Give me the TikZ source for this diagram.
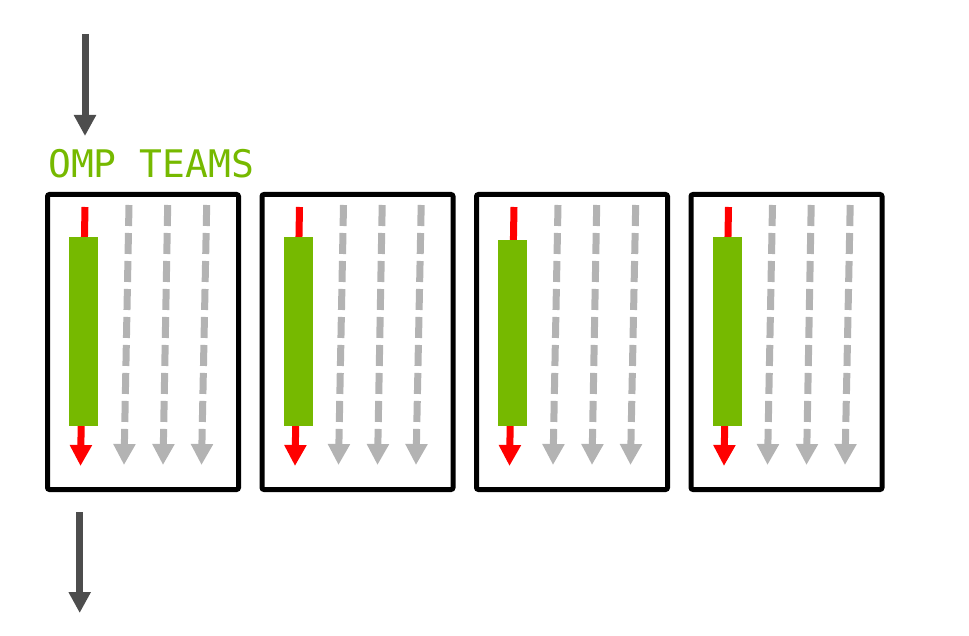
\documentclass[tikz,border=0pt]{standalone}
\usepackage{fontspec}
\newfontfamily\monofont{DejaVu Sans Mono}
\usetikzlibrary{arrows.meta,calc}
\definecolor{nvgreen}{HTML}{76B900}
\definecolor{darkarrow}{HTML}{4D4D4D}
\definecolor{lightgray}{HTML}{B3B3B3}
\definecolor{redline}{HTML}{FF0000}
\tikzset{
  teambox/.style={draw=black, line width=5pt, rounded corners=2pt, minimum width=191pt, minimum height=295pt, inner sep=0pt, outer sep=0pt},
  bigarrow/.style={draw=darkarrow, line width=7pt, -{Triangle[length=21pt,width=21pt]}},
  masterarrow/.style={draw=redline, line width=7pt, -{Triangle[length=21pt,width=21pt]}},
  workerarrow/.style={draw=lightgray, line width=7pt, dash pattern=on 21pt off 7pt, -{Triangle[length=21pt,width=21pt]}},
  workbar/.style={fill=nvgreen, draw=none},
  teamlabel/.style={text=nvgreen, font=\monofont\fontsize{38pt}{40pt}\selectfont, inner sep=0pt, anchor=base west}
}
\begin{document}
\begin{tikzpicture}[x=1pt,y=-1pt]
\useasboundingbox (0,0) rectangle (969,636);
% top and bottom arrows
\coordinate (intop) at (85,34);
\coordinate (inbot) at (85,136);
\draw[bigarrow] (intop) -- (inbot);
\coordinate (outtop) at (79.7,512);
\coordinate (outbot) at (79.7,613);
\draw[bigarrow] (outtop) -- (outbot);
% label
\node[teamlabel] (lbl) at (48,178) {OMP TEAMS};
% teams
\foreach \i/\cx/\gt in {1/143/237, 2/357.5/237, 3/572/240, 4/786.5/237} {
  \node[teambox] (box\i) at (\cx,342) {};
  \coordinate (rs\i) at ($(box\i.west)+(37.5,-135)$);
  \coordinate (re\i) at ($(box\i.west)+(33,124)$);
  \draw[masterarrow] (rs\i) -- (re\i);
  \fill[workbar] ($(box\i.west)+(21.5,\gt-342)$) rectangle ($(box\i.west)+(50.5,84)$);
  \foreach \j/\ts/\te in {1/81.5/76.5, 2/120.2/115.5, 3/159.2/154} {
    \coordinate (ws\i\j) at ($(box\i.west)+(\ts,-137)$);
    \coordinate (we\i\j) at ($(box\i.west)+(\te,123)$);
    \draw[workerarrow] (ws\i\j) -- (we\i\j);
  }
}
\end{tikzpicture}
\end{document}
